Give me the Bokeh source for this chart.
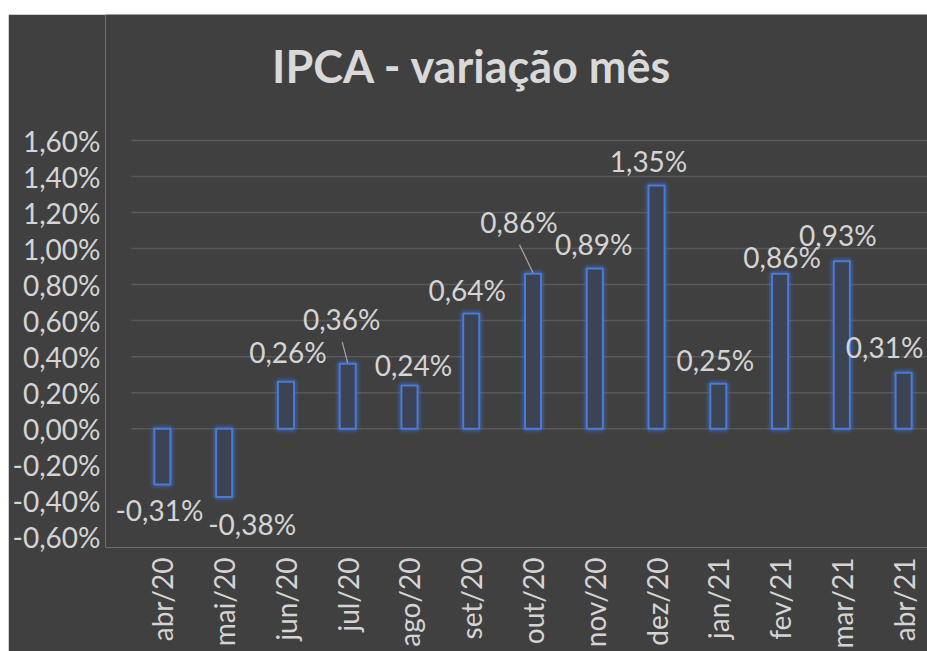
from bokeh.plotting import figure
from bokeh.models import FixedTicker, ColumnDataSource
from bokeh.core.properties import value
from bokeh.embed import file_html
from bokeh.resources import INLINE
import math

# ---- data ----
title = "IPCA - variação mês"
months = ["abr/20", "mai/20", "jun/20", "jul/20", "ago/20", "set/20", "out/20",
          "nov/20", "dez/20", "jan/21", "fev/21", "mar/21", "abr/21"]
ipca = [-0.31, -0.38, 0.26, 0.36, 0.24, 0.64, 0.86, 0.89, 1.35, 0.25, 0.86, 0.93, 0.31]
y_ticks = [-0.6, -0.4, -0.2, 0.0, 0.2, 0.4, 0.6, 0.8, 1.0, 1.2, 1.4, 1.6]
y_tick_labels = ["-0,60%", "-0,40%", "-0,20%", "0,00%", "0,20%", "0,40%", "0,60%",
                 "0,80%", "1,00%", "1,20%", "1,40%", "1,60%"]

# label nudges in pixels (dx right, dy = label centre distance beyond bar end)
lab_dx = [-3, 28, 2, -6, 4, -4, -14, -1, -8, -3, 2, -4, -19]
lab_dy = [28, 29, 28, 43, 18, 21, 50, 22, 23, 22, 15, 24, 24]
leader = [False, False, False, True, False, False, True, False, False, False, False, False, False]

W, H = 919, 637
LEFT = 97
TOPPAD = 126                  # pixels from figure top to the 1,60% line
PAD = 26                      # pixels between frame edge and first category slot
PXY = 180.0
PXX = 61.77
Y_LOW = -0.66
Y_TOP = 1.6
Y0 = Y_LOW
Y1 = Y_TOP + TOPPAD / PXY
FH = int(round((Y1 - Y0) * PXY))
FW = W - LEFT
X0 = -0.5 - PAD / PXX
X1 = X0 + FW / PXX

BG = "#404040"
TXT = "#d4d4d4"
FONT = "Lato"

p = figure(width=W, height=H, x_range=(X0, X1), y_range=(Y0, Y1),
           output_backend="svg", toolbar_location=None,
           min_border_left=LEFT, min_border_top=0, min_border_right=0,
           min_border_bottom=H - FH)
p.margin = (14, 0, 0, 8)
p.background_fill_color = BG
p.border_fill_color = BG
p.outline_line_color = None

# gridlines (only for the non-negative ticks, starting at the first category slot)
grid_y = [t for t in y_ticks if t >= 0]
p.segment(x0=[-0.5] * len(grid_y), x1=[X1] * len(grid_y), y0=grid_y, y1=grid_y,
          line_color="#595959", line_width=1.5)

xs = list(range(len(months)))
src = ColumnDataSource(dict(x=xs, top=ipca))

# glow
p.vbar(x="x", top="top", bottom=0, width=0.26, source=src, fill_color=None,
       line_color="#3f6fd0", line_width=10, line_alpha=0.13)
p.vbar(x="x", top="top", bottom=0, width=0.26, source=src, fill_color=None,
       line_color="#4474d4", line_width=6, line_alpha=0.28)
p.vbar(x="x", top="top", bottom=0, width=0.26, source=src, fill_color="#3c4352",
       line_color="#4a7bd6", line_width=2)

# data labels
lx, ly, lt = [], [], []
sx0, sy0, sx1, sy1 = [], [], [], []
for i, v in enumerate(ipca):
    sgn = 1 if v >= 0 else -1
    cy = v + sgn * lab_dy[i] / PXY          # label centre (data)
    cx = i + lab_dx[i] / PXX
    lx.append(cx)
    ly.append(cy + 2 / PXY)                 # text anchor
    lt.append(("%.2f" % v).replace(".", ",") + "%")
    if leader[i]:
        sx0.append(cx + 0.5 / PXX)
        sy0.append(cy - 21 / PXY)
        sx1.append(i)
        sy1.append(v + 1 / PXY)

p.segment(x0=sx0, y0=sy0, x1=sx1, y1=sy1, line_color="#a6a6a6", line_width=1.2)
p.text(x=lx, y=ly, text=lt, text_align="center", text_baseline="alphabetic",
       text_font=value(FONT), text_font_size="28px", text_color=TXT)

# title
p.text(x=[-0.5 + 341 / PXX], y=[Y_TOP + 75 / PXY], text=[title],
       text_align="center", text_baseline="alphabetic",
       text_font=value(FONT), text_font_size="45px", text_font_style="bold",
       text_color="#d9d9d9")

# axes
p.yaxis.ticker = FixedTicker(ticks=y_ticks)
p.yaxis.major_label_overrides = {t: l for t, l in zip(y_ticks, y_tick_labels)}
p.xaxis.ticker = FixedTicker(ticks=xs)
p.xaxis.major_label_overrides = {i: m for i, m in zip(xs, months)}
p.xaxis.major_label_orientation = math.pi / 2
for ax in (p.xaxis, p.yaxis):
    ax.axis_line_color = None
    ax.major_tick_line_color = None
    ax.minor_tick_line_color = None
    ax.major_tick_out = 0
    ax.major_tick_in = 0
    ax.major_label_text_font = FONT
    ax.major_label_text_color = TXT
    ax.major_label_text_font_size = "28px"
p.yaxis.major_label_standoff = 31 - PAD
p.xaxis.major_label_standoff = 10

p.xgrid.grid_line_color = None
p.ygrid.grid_line_color = None

open("out.html", "w").write(file_html(p, INLINE))
